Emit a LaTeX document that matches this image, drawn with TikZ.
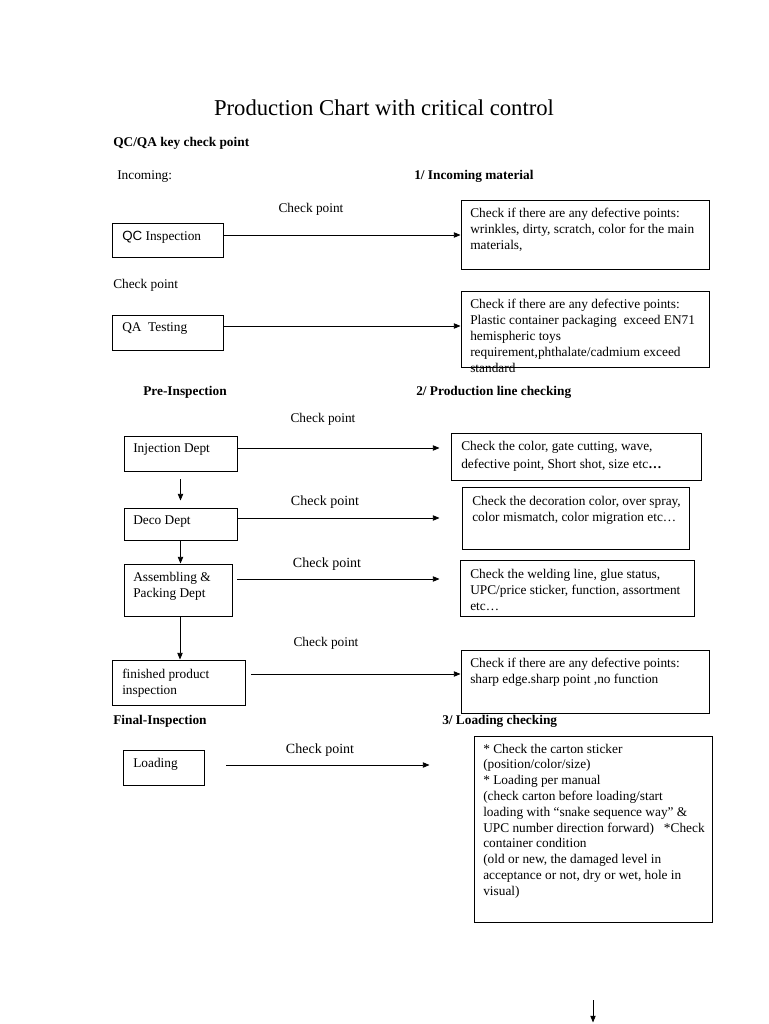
\documentclass[tikz,border=0pt]{standalone}
\usepackage{fontspec}
\setmainfont{Liberation Serif}
\setsansfont{Liberation Sans}
\usetikzlibrary{arrows.meta,fit}
\begin{document}
\begin{tikzpicture}[x=0.75pt,y=-0.75pt,
  box/.style={draw, line width=0.7pt, inner sep=0pt},
  txt/.style={inner sep=0pt, anchor=north west, align=left, font=\fontsize{10}{12}\selectfont},
  lbl/.style={inner sep=0pt, anchor=base west, font=\fontsize{10}{12}\selectfont},
  hd/.style={inner sep=0pt, anchor=base west, font=\fontsize{10}{12}\selectfont\bfseries},
  cp/.style={inner sep=0pt, anchor=base, font=\fontsize{10}{12}\selectfont},
  cpb/.style={inner sep=0pt, anchor=base, font=\fontsize{10.5}{12}\selectfont},
  arr/.style={-{Triangle[length=5pt,width=4pt]}, line width=0.6pt}]
\useasboundingbox (0,0) rectangle (768,1024);

\node[inner sep=0pt, anchor=base, font=\fontsize{17}{20}\selectfont] (title) at (384,115.5) {Production Chart with critical control};

\node[hd] (h0) at (113,146.5) {QC/QA key check point};
\node[lbl] (inc) at (117,179.5) {Incoming:};
\node[hd] (h1) at (414,179.5) {1/ Incoming material};

% section 1
\node[cp] (cp1) at (311,212.5) {Check point};
\node[box, fit={(112,223) (223,257)}] (qc) {};
\node[lbl] (qct) at (122,240.5) {{\sffamily QC} Inspection};
\node[box, fit={(461,200) (709,269)}] (b1) {};
\node[txt] (b1t) at (470,207.5) {Check if there are any defective points:\\ wrinkles, dirty, scratch, color for the main\\ materials,};
\draw[arr] (qc.east |- 0,235) -- (b1.west |- 0,235);

\node[lbl] (cp2) at (113,288.5) {Check point};
\node[box, fit={(112,315) (223,350)}] (qa) {};
\node[lbl] (qat) at (122,331.5) {QA\ \ Testing};
\node[box, fit={(461,291) (709,367)}] (b2) {};
\node[txt] (b2t) at (470,298.5) {Check if there are any defective points:\\ Plastic container packaging\ \ exceed EN71\\ hemispheric toys\\ requirement,phthalate/cadmium exceed\\ standard};
\draw[arr] (qa.east |- 0,326) -- (b2.west |- 0,326);

% section 2
\node[hd] (h2) at (143,395.5) {Pre-Inspection};
\node[hd] (h3) at (416,395.5) {2/ Production line checking};

\node[cp] (cp3) at (323,422.5) {Check point};
\node[box, fit={(124,436) (237,471)}] (inj) {};
\node[lbl] (injt) at (133,452.5) {Injection Dept};
\node[box, fit={(451,433) (701,480)}] (b3) {};
\node[txt] (b3t) at (461,440.5) {Check the color, gate cutting, wave,\\[1.5pt] defective point, Short shot, size etc\textbf{…}};
\draw[arr] (inj.east |- 0,448) -- ([xshift=-8.25pt]b3.west |- 0,448);

\node[cpb] (cp4) at (325,505.5) {Check point};
\node[box, fit={(124,508) (237,540)}] (deco) {};
\node[lbl] (decot) at (133,524.5) {Deco Dept};
\node[box, fit={(462,487) (689,549)}] (b4) {};
\node[txt] (b4t) at (472,495.5) {Check the decoration color, over spray,\\ color mismatch, color migration etc…};
\draw[arr] (deco.east |- 0,518) -- ([xshift=-16.5pt]b4.west |- 0,518);
\draw[arr] ([yshift=-6pt]inj.south) -- ([yshift=5.25pt]deco.north);

\node[cpb] (cp5) at (327,567.5) {Check point};
\node[box, fit={(124,564) (232,616)}] (asm) {};
\node[txt] (asmt) at (133,571.5) {Assembling \&\\ Packing Dept};
\node[box, fit={(460,560) (694,616)}] (b5) {};
\node[txt] (b5t) at (470,568.5) {Check the welding line, glue status,\\ UPC/price sticker, function, assortment\\ etc…};
\draw[arr] ([xshift=3.75pt]asm.east |- 0,579) -- ([xshift=-15pt]b5.west |- 0,579);
\draw[arr] (deco.south) -- (deco.south |- asm.north);

\node[cp] (cp6) at (326,646.5) {Check point};
\node[box, fit={(112,660) (245,705)}] (fin) {};
\node[txt] (fint) at (122,668.5) {finished product\\ inspection};
\node[box, fit={(461,650) (709,713)}] (b6) {};
\node[txt] (b6t) at (470,657.5) {Check if there are any defective points:\\ sharp edge.sharp point ,no function};
\draw[arr] ([xshift=4.5pt]fin.east |- 0,674) -- (b6.west |- 0,674);
\draw[arr] (asm.south -| 180,0) -- (180,0 |- fin.north);

% section 3
\node[hd] (h4) at (113,724.5) {Final-Inspection};
\node[hd] (h5) at (442,724.5) {3/ Loading checking};

\node[cpb] (cp7) at (320,753.5) {Check point};
\node[box, fit={(123,750) (204,785)}] (load) {};
\node[lbl] (loadt) at (133,767.5) {Loading};
\node[box, fit={(474,736) (712,922)}] (b7) {};
\node[txt, font=\fontsize{10}{11.85}\selectfont] (b7t) at (483,743.5) {* Check the carton sticker\\ (position/color/size)\\ * Loading per manual\\ (check carton before loading/start\\ loading with “snake sequence way” \&\\ UPC number direction forward)\ \ \ *Check\\ container condition\\ (old or new, the damaged level in\\ acceptance or not, dry or wet, hole in\\ visual)};
\draw[arr] ([xshift=16.5pt]load.east |- 0,765) -- ([xshift=-33pt]b7.west |- 0,765);

\draw[arr] ([yshift=-58.5pt]b7.south) -- ([yshift=-75pt]b7.south);
\end{tikzpicture}
\end{document}
